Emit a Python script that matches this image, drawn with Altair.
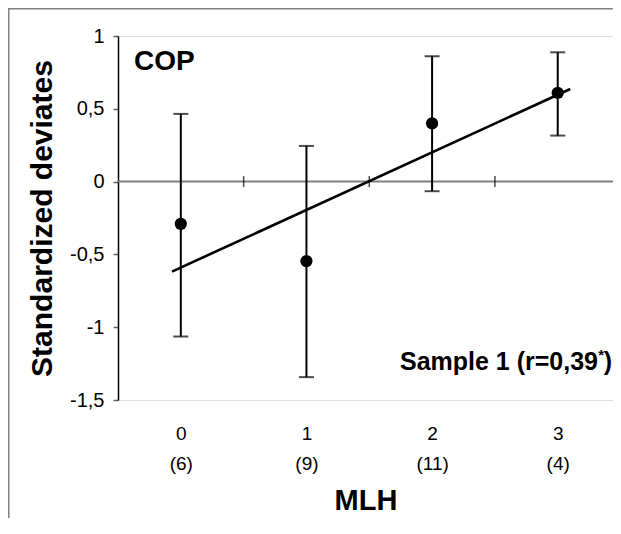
import altair as alt
import pandas as pd

# ---- data ----
mlh = [0, 1, 2, 3]
n_obs = [6, 9, 11, 4]
mean_dev = [-0.29, -0.546, 0.40, 0.609]
ci_low = [-1.064, -1.343, -0.066, 0.316]
ci_high = [0.465, 0.245, 0.861, 0.888]
fit_x = [-0.07, 3.10]
fit_y = [-0.618, 0.636]
y_ticks = [-1.5, -1, -0.5, 0, 0.5, 1]
zero_ticks = [0.5, 1.5, 2.5, 3.5]
x_domain = [-0.5, 3.5]
y_domain = [-1.5, 1]

df = pd.DataFrame({"mlh": mlh, "n": n_obs, "mean": mean_dev, "lo": ci_low, "hi": ci_high})
fit_df = pd.DataFrame({"x": fit_x, "y": fit_y})
zero_df = pd.DataFrame({"x": x_domain, "y": [0, 0]})
ztick_df = pd.DataFrame({"x": zero_ticks, "y": [0] * len(zero_ticks)})
one = pd.DataFrame({"a": [0]})

FONT = "Liberation Sans"
W, H = 495, 364
PAD = {"left": 110, "top": 28, "right": 0, "bottom": 118}

# the reference crops the plot just before the last category boundary
xs = alt.Scale(domain=[-0.5, 3.44], nice=False, zero=False)
ys = alt.Scale(domain=y_domain, nice=False, zero=False)

n_arr = "[" + ",".join(str(v) for v in n_obs) + "]"
x_axis = alt.Axis(
    values=mlh, domain=False, ticks=False, grid=False,
    labelExpr=f"[toString(datum.value), '(' + toString({n_arr}[datum.value]) + ')']",
    labelLineHeight=30, labelPadding=24, labelFont=FONT, labelFontSize=19,
    labelColor="black", labelFlush=False, labelOverlap=False,
    title="MLH", titleFont=FONT, titleFontSize=29, titleFontWeight="bold",
    titleColor="black", titleY=100, titleBaseline="middle",
)
y_axis = alt.Axis(
    values=y_ticks, grid=False, domainColor="black", domainWidth=1.5,
    tickColor="#606060", tickWidth=1.5, tickSize=5, labelPadding=9,
    labelFont=FONT, labelFontSize=20, labelColor="black",
    labelFlush=False, labelOverlap=False,
    labelExpr="replace(toString(datum.value), '.', ',')",
    title="Standardized deviates", titleFont=FONT, titleFontSize=30,
    titleFontWeight="bold", titleColor="black", titleX=-76, titleY=H / 2,
    titleAlign="center", titleBaseline="middle",
)

base = alt.Chart(df)
zero_line = alt.Chart(zero_df).mark_line(color="#808080", strokeWidth=2).encode(
    x=alt.X("x:Q", scale=xs, axis=x_axis), y=alt.Y("y:Q", scale=ys, axis=y_axis)
)
zero_tk = alt.Chart(ztick_df).mark_tick(orient="vertical", color="black", size=11, thickness=1.5).encode(
    x="x:Q", y="y:Q"
)
bars = base.mark_rule(color="black", strokeWidth=2).encode(x="mlh:Q", y="lo:Q", y2="hi:Q")
cap_hi = base.mark_tick(orient="horizontal", color="black", size=15, thickness=2).encode(x="mlh:Q", y="hi:Q")
cap_lo = base.mark_tick(orient="horizontal", color="black", size=15, thickness=2).encode(x="mlh:Q", y="lo:Q")
fit = alt.Chart(fit_df).mark_line(color="black", strokeWidth=2.6).encode(x="x:Q", y="y:Q")
pts = base.mark_circle(size=150, color="black", opacity=1).encode(x="mlh:Q", y="mean:Q")

frame_l = alt.Chart(one).mark_rule(color="#808080", strokeWidth=1.5).encode(
    x=alt.value(-109.25), y=alt.value(-27.25), y2=alt.value(H + PAD["bottom"])
)
frame_t = alt.Chart(one).mark_rule(color="#808080", strokeWidth=1.5).encode(
    x=alt.value(-110), x2=alt.value(W + 10), y=alt.value(-27.25)
)

cop = alt.Chart(one).mark_text(
    text="COP", font=FONT, fontSize=28, fontWeight="bold", align="left",
    baseline="alphabetic", color="black"
).encode(x=alt.value(16), y=alt.value(34))
sample = alt.Chart(one).mark_text(
    text="Sample 1 (r=0,39", font=FONT, fontSize=25, fontWeight="bold", align="right",
    baseline="alphabetic", color="black"
).encode(x=alt.value(480), y=alt.value(334))
star = alt.Chart(one).mark_text(
    text="*", font=FONT, fontSize=15, fontWeight="bold", align="right",
    baseline="alphabetic", color="black"
).encode(x=alt.value(486), y=alt.value(324))
paren = alt.Chart(one).mark_text(
    text=")", font=FONT, fontSize=25, fontWeight="bold", align="right",
    baseline="alphabetic", color="black"
).encode(x=alt.value(494), y=alt.value(334))

chart = alt.layer(
    zero_line, zero_tk, bars, cap_hi, cap_lo, fit, pts,
    frame_l, frame_t, cop, sample, star, paren
).properties(
    width=W, height=H,
    autosize=alt.AutoSizeParams(type="none"),
    padding=PAD,
).configure_view(stroke=None).configure(background="white")

chart.save("out.html", embed_options={"renderer": "svg", "actions": False})
